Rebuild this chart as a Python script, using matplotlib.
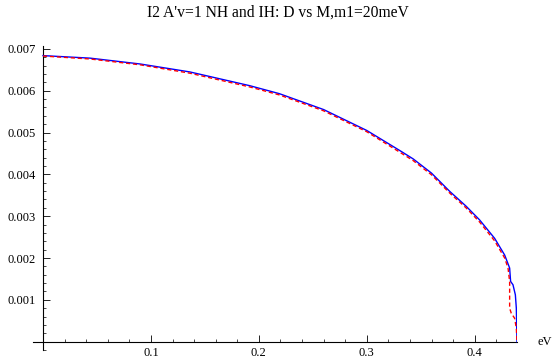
import matplotlib
matplotlib.use("Agg")
import matplotlib.pyplot as plt
from matplotlib.ticker import MultipleLocator, FixedLocator

plt.rcParams['font.family'] = ['Liberation Serif', 'DejaVu Serif']

title = "I2 A'v=1 NH and IH: D vs M,m1=20meV"
xlabel = "eV"

# NH (blue, solid)
x_nh = [0, 0.0435, 0.09, 0.136, 0.1917, 0.219, 0.26, 0.30, 0.3306, 0.343, 0.36, 0.377,
        0.392, 0.4046, 0.4185, 0.4278, 0.4324, 0.4333, 0.4355, 0.4377, 0.4386, 0.4392]
y_nh = [6.84, 6.78, 6.64, 6.45, 6.12, 5.93, 5.55, 5.05, 4.57, 4.37, 4.03, 3.59,
        3.24, 2.91, 2.47, 2.07, 1.76, 1.44, 1.36, 1.12, 0.80, 0.0]

# IH (red, dashed)
x_ih = [0, 0.0435, 0.09, 0.136, 0.1917, 0.219, 0.26, 0.30, 0.3306, 0.343, 0.36, 0.377,
        0.392, 0.4046, 0.4185, 0.4278, 0.4309, 0.4324, 0.4324, 0.4339, 0.4370, 0.4386, 0.4392]
y_ih = [6.83, 6.76, 6.62, 6.42, 6.09, 5.90, 5.52, 5.02, 4.53, 4.33, 3.99, 3.55,
        3.20, 2.86, 2.41, 2.00, 1.76, 1.44, 0.80, 0.68, 0.56, 0.32, 0.0]

x_major = [0.1, 0.2, 0.3, 0.4]
y_major = [0.001, 0.002, 0.003, 0.004, 0.005, 0.006, 0.007]

W, H = 555, 364
fig = plt.figure(figsize=(W / 100, H / 100), dpi=100)
left_px, right_px, top_px, bottom_px = 33, 517.3, 46, 350
ax = fig.add_axes([left_px / W, 1 - bottom_px / H, (right_px - left_px) / W, (bottom_px - top_px) / H])

ax.plot(x_nh, [v * 1e-3 for v in y_nh], color='#0000ff', lw=1.0, zorder=3)
ax.plot(x_ih, [v * 1e-3 for v in y_ih], color='#ff0000', lw=1.0, ls=(0, (3, 2)), zorder=4)

ax.set_xlim(-0.0093, 0.4395)
ax.set_ylim(-0.0002, 0.00707)

for s in ['top', 'right']:
    ax.spines[s].set_visible(False)
ax.spines['left'].set_position(('data', 0))
ax.spines['bottom'].set_position(('data', 0))
for s in ['left', 'bottom']:
    ax.spines[s].set_linewidth(0.8)

ax.xaxis.set_major_locator(FixedLocator(x_major))
ax.xaxis.set_minor_locator(MultipleLocator(0.02))
ax.yaxis.set_major_locator(FixedLocator(y_major))
ax.yaxis.set_minor_locator(MultipleLocator(0.0002))
ax.set_xticklabels([str(v) for v in x_major])
ax.set_yticklabels(["%.3f" % v for v in y_major])

ax.tick_params(which='major', direction='in', length=5, width=0.6, labelsize=9, pad=4)
ax.tick_params(which='minor', direction='in', length=2.5, width=0.5)
ax.tick_params(axis='y', which='major', pad=5)

ax.text(0.4395 + 0.019, 0, xlabel, fontsize=9, ha='left', va='center')

fig.text(0.5, 1 - 13 / H, title, ha='center', va='center', fontsize=11.25)

fig.savefig("out.png", dpi=100)
